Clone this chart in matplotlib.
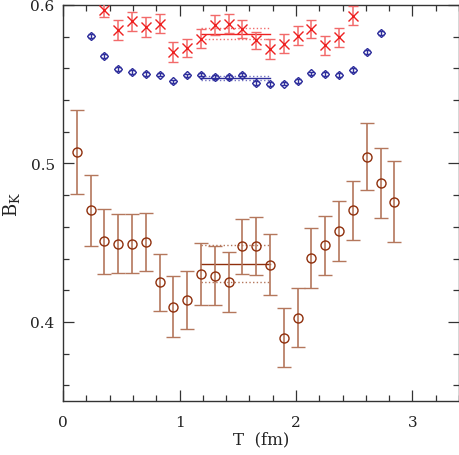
import numpy as np
import matplotlib
matplotlib.use("Agg")
import matplotlib.pyplot as plt
from matplotlib.ticker import MultipleLocator

plt.rcParams['font.family'] = ['DejaVu Serif']
plt.rcParams['mathtext.fontset'] = 'dejavuserif'

a = 0.1185  # lattice spacing in fm (time slice spacing)

# Brown circles: time slices 1..24
brown_n = list(range(1, 25))
brown_y = [0.507, 0.4704, 0.4508, 0.4492, 0.4492, 0.4504, 0.4251, 0.4097, 0.4141, 0.4304,
           0.4291, 0.4253, 0.4477, 0.4477, 0.4361, 0.3901, 0.4027, 0.4403, 0.4485, 0.4572,
           0.4704, 0.5042, 0.4875, 0.4758]
brown_err = [0.0265, 0.0224, 0.0203, 0.0186, 0.0186, 0.0182, 0.018, 0.019, 0.0183, 0.0196,
             0.0187, 0.019, 0.0172, 0.0182, 0.0194, 0.0188, 0.0184, 0.0192, 0.0186, 0.019,
             0.0188, 0.021, 0.0222, 0.0256]

# Blue diamonds: time slices 2..23
blue_n = list(range(2, 24))
blue_y = [0.5806, 0.568, 0.5595, 0.5576, 0.5563, 0.5561, 0.5517, 0.5555, 0.5561, 0.5544,
          0.5544, 0.5561, 0.5506, 0.55, 0.5504, 0.5521, 0.5568, 0.5563, 0.5559, 0.5591,
          0.5704, 0.5823]
blue_err = [0.0012] * 22

# Red crosses: time slices 3..21
red_n = list(range(3, 22))
red_y = [0.597, 0.5844, 0.5897, 0.5859, 0.5882, 0.5703, 0.5728, 0.5787, 0.5875, 0.588,
         0.585, 0.5776, 0.5722, 0.5755, 0.5806, 0.5848, 0.5747, 0.5795, 0.5932]
red_err = [0.0045, 0.0063, 0.006, 0.0062, 0.0059, 0.006, 0.0059, 0.0059, 0.0062, 0.006,
           0.0058, 0.0055, 0.0061, 0.0061, 0.006, 0.0059, 0.006, 0.0062, 0.006]

# Plateau fits: (t_min, t_max), (value, error)
fit_range = (10, 15)
brown_fit = (0.4366, 0.0117)
blue_fit = (0.5539, 0.0014)
red_fit = (0.5818, 0.0034)

brown = '#8f2f0c'
brown_l = '#b4775c'
blue = '#2e2e9c'
blue_l = '#7070c0'
red = '#ee2020'
red_l = '#f26a6a'

fig = plt.figure(figsize=(4.6, 4.56), dpi=100)
ax = fig.add_axes([0.137, 0.118, 0.861, 0.869])

bx = np.array(brown_n) * a
ax.errorbar(bx, brown_y, yerr=brown_err, fmt='o', ms=6.5, mfc='none', mec=brown,
            mew=1.0, ecolor=brown_l, elinewidth=1.2, capsize=4.7, capthick=1.2, zorder=3)

blx = np.array(blue_n) * a
ax.errorbar(blx, blue_y, yerr=blue_err, fmt='D', ms=4.5, mfc='none', mec=blue,
            mew=1.0, ecolor=blue, elinewidth=1.0, capsize=2.5, capthick=1.0, zorder=3)

rx = np.array(red_n) * a
ax.errorbar(rx, red_y, yerr=red_err, fmt='x', ms=6.5, mec=red, mew=1.0,
            ecolor=red_l, elinewidth=1.1, capsize=3.5, capthick=1.1, zorder=3)

x0, x1 = fit_range[0] * a, fit_range[1] * a
for (v, e), c, cl in [(brown_fit, brown, brown_l), (blue_fit, blue, blue_l), (red_fit, red, red_l)]:
    ax.plot([x0, x1], [v, v], color=c, lw=1.0, zorder=2)
    ax.plot([x0, x1], [v + e, v + e], color=cl, lw=1.0, ls=':', zorder=2)
    ax.plot([x0, x1], [v - e, v - e], color=cl, lw=1.0, ls=':', zorder=2)

ax.set_xlim(0, 3.4)
ax.set_ylim(0.35, 0.6)
ax.xaxis.set_major_locator(MultipleLocator(1))
ax.xaxis.set_minor_locator(MultipleLocator(0.2))
ax.yaxis.set_major_locator(MultipleLocator(0.1))
ax.yaxis.set_minor_locator(MultipleLocator(0.02))
ax.tick_params(which='both', direction='in', top=True, right=True, colors='#333333',
               labelcolor='#222222', labelsize=11)
ax.tick_params(which='major', length=8, width=0.9)
ax.tick_params(which='minor', length=4, width=0.9)
ax.tick_params(axis='x', pad=10)
ax.tick_params(axis='y', pad=6)
for s in ax.spines.values():
    s.set_color('#333333')
    s.set_linewidth(1.0)

ax.set_xlabel('T  (fm)', fontsize=12, labelpad=1, color='#222222')
ax.set_ylabel(r'$\mathrm{B_K}$', fontsize=13, labelpad=6, color='#222222')

fig.savefig('out.png', dpi=100)
